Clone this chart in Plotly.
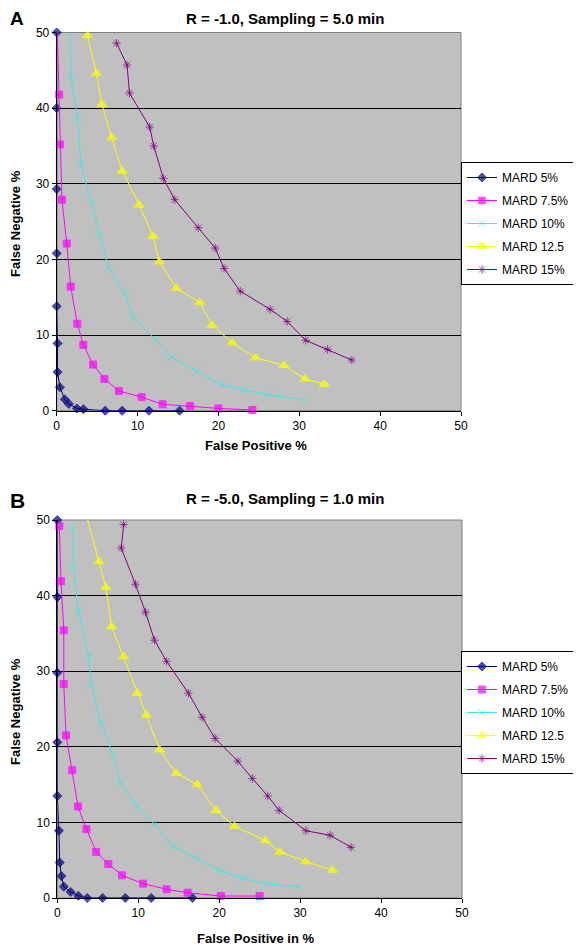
import plotly.graph_objects as go

FONT = "Arial, Liberation Sans, sans-serif"
W, H = 581, 948          # target page size
BODY = 8                 # default page body margin around the figure div
FW, FH = W - BODY, H - BODY  # figure size so that it ends at the window edge

series_names = ["MARD 5%", "MARD 7.5%", "MARD 10%", "MARD 12.5", "MARD 15%"]
colors = ["#000080", "#FF00FF", "#3CE8E8", "#FFFF00", "#800080"]
symbols = ["diamond", "square", "x-thin-open", "triangle-up", "asterisk-open"]
marker_sizes = [7, 7, 7, 9, 7]

# Panel A: R = -1.0, Sampling = 5.0 min
a_fp_mard5 = [0, 0, 0, 0, 0, 0.1, 0.1, 0.4, 1.0, 1.5, 2.5, 3.3, 6.0, 8.1, 11.4, 15.2]
a_fn_mard5 = [50, 40, 29.3, 20.8, 13.8, 8.9, 5.1, 3.1, 1.5, 0.9, 0.3, 0.2, 0, 0, 0, 0]
a_fp_mard75 = [0.02, 0.3, 0.4, 0.65, 1.24, 1.73, 2.55, 3.3, 4.5, 5.9, 7.7, 10.5, 13.1, 16.5, 20.0, 24.2]
a_fn_mard75 = [52, 41.8, 35.2, 27.9, 22.1, 16.4, 11.5, 8.7, 6.1, 4.2, 2.6, 1.8, 0.85, 0.6, 0.3, 0.1]
a_fp_mard10 = [1.6, 1.77, 2.55, 3.0, 4.3, 5.3, 6.4, 8.4, 9.5, 12.2, 14.2, 17.3, 20.3, 23.2, 26.2, 30.7]
a_fn_mard10 = [52, 44.1, 38.8, 32.6, 27.5, 23.4, 18.9, 15.5, 12.3, 9.4, 7.1, 5.2, 3.5, 2.7, 2.1, 1.4]
a_fp_mard125 = [3.8, 4.9, 5.6, 6.8, 8.1, 10.2, 11.9, 12.7, 14.8, 17.7, 19.2, 21.7, 24.6, 28.1, 30.7, 33.1]
a_fn_mard125 = [49.6, 44.6, 40.5, 36.1, 31.7, 27.2, 23.1, 19.7, 16.2, 14.3, 11.3, 9.0, 7.0, 6.0, 4.2, 3.5]
a_fp_mard15 = [7.4, 8.7, 9.0, 11.5, 12.0, 13.2, 14.6, 17.5, 19.6, 20.7, 22.7, 26.4, 28.5, 30.8, 33.5, 36.5]
a_fn_mard15 = [48.6, 45.7, 42.0, 37.5, 35.0, 30.7, 27.9, 24.2, 21.5, 18.8, 15.8, 13.4, 11.8, 9.3, 8.1, 6.7]

# Panel B: R = -5.0, Sampling = 1.0 min
b_fp_mard5 = [0, 0, 0, 0, 0, 0.2, 0.3, 0.5, 0.8, 1.65, 2.6, 3.7, 5.6, 8.4, 11.6, 16.7]
b_fn_mard5 = [50, 39.8, 29.8, 20.6, 13.5, 8.9, 4.7, 2.9, 1.5, 0.8, 0.3, 0, 0, 0, 0, 0]
b_fp_mard75 = [0.25, 0.46, 0.8, 0.8, 1.08, 1.85, 2.56, 3.6, 4.8, 6.3, 8.0, 10.6, 13.5, 16.1, 20.2, 25.0]
b_fn_mard75 = [49.2, 41.9, 35.4, 28.3, 21.5, 16.9, 12.1, 9.1, 6.1, 4.5, 3.0, 1.9, 1.15, 0.7, 0.26, 0.26]
b_fp_mard10 = [1.9, 2.0, 2.6, 3.9, 4.2, 5.4, 6.85, 7.8, 9.8, 12.0, 14.3, 17.2, 20.1, 23.0, 26.0, 29.8]
b_fn_mard10 = [49.0, 43.7, 38.0, 31.9, 28.2, 23.2, 19.0, 15.25, 12.2, 9.8, 6.8, 5.25, 3.6, 2.6, 1.85, 1.5]
b_fp_mard125 = [3.25, 5.15, 6.0, 6.7, 8.2, 9.9, 11.0, 12.65, 14.7, 17.3, 19.6, 21.9, 25.7, 27.5, 30.7, 34.0]
b_fn_mard125 = [52, 44.5, 41.1, 35.9, 31.9, 27.1, 24.2, 19.6, 16.5, 15.0, 11.6, 9.5, 7.6, 6.1, 4.8, 3.7]
b_fp_mard15 = [8.2, 7.9, 9.65, 10.9, 12.0, 13.5, 16.2, 17.9, 19.5, 22.3, 24.1, 26.0, 27.4, 30.7, 33.7, 36.3]
b_fn_mard15 = [49.4, 46.3, 41.5, 37.8, 34.1, 31.3, 27.1, 23.9, 21.1, 18.1, 15.8, 13.5, 11.6, 8.9, 8.3, 6.7]

tick_vals = [0, 10, 20, 30, 40, 50]
AXIS_MAX = 50


def fx(px):
    return (px - BODY) / FW


def fy(py):
    return 1 - (py - BODY) / FH


panel_a = [(a_fp_mard5, a_fn_mard5), (a_fp_mard75, a_fn_mard75), (a_fp_mard10, a_fn_mard10),
           (a_fp_mard125, a_fn_mard125), (a_fp_mard15, a_fn_mard15)]
panel_b = [(b_fp_mard5, b_fn_mard5), (b_fp_mard75, b_fn_mard75), (b_fp_mard10, b_fn_mard10),
           (b_fp_mard125, b_fn_mard125), (b_fp_mard15, b_fn_mard15)]

fig = go.Figure()

for panel, (xa, ya, leg) in [(panel_a, ("x", "y", "legend")), (panel_b, ("x2", "y2", "legend2"))]:
    for i, (xs, ys) in enumerate(panel):
        sizes = [0 if v > AXIS_MAX else marker_sizes[i] for v in ys]
        fig.add_trace(go.Scatter(
            x=xs, y=ys, xaxis=xa, yaxis=ya, legend=leg,
            name=series_names[i], legendgroup=leg + str(i),
            mode="lines+markers", cliponaxis=False,
            line=dict(color=colors[i], width=1),
            marker=dict(symbol=symbols[i], size=sizes, color=colors[i],
                        line=dict(color=colors[i], width=1)),
        ))

axis_common = dict(range=[0, 50], tickvals=tick_vals, ticks="outside", ticklen=4,
                   tickcolor="black", showline=True, linecolor="black", linewidth=1,
                   zeroline=False, automargin=False,
                   tickfont=dict(family=FONT, size=12, color="black"),
                   fixedrange=True)

xa_dom = [fx(56.7), fx(461)]
ya_dom = [fy(410.7), fy(32.5)]
xb_dom = [fx(57.3), fx(462)]
yb_dom = [fy(898), fy(520)]

legend_common = dict(bgcolor="white", bordercolor="black", borderwidth=1,
                     font=dict(family=FONT, size=12, color="black"),
                     xanchor="left", yanchor="top", itemwidth=30, tracegroupgap=4,
                     itemclick=False, itemdoubleclick=False)

fig.update_layout(
    width=FW, height=FH, autosize=False,
    margin=dict(l=0, r=0, t=0, b=0, autoexpand=False),
    paper_bgcolor="white", plot_bgcolor="#C0C0C0",
    font=dict(family=FONT, size=12, color="black"),
    showlegend=True,
    xaxis=dict(domain=xa_dom, anchor="y", showgrid=False, **axis_common),
    yaxis=dict(domain=ya_dom, anchor="x", showgrid=True, gridcolor="black", gridwidth=1, **axis_common),
    xaxis2=dict(domain=xb_dom, anchor="y2", showgrid=False, **axis_common),
    yaxis2=dict(domain=yb_dom, anchor="x2", showgrid=True, gridcolor="black", gridwidth=1, **axis_common),
    legend=dict(x=fx(461), y=fy(162), **legend_common),
    legend2=dict(x=fx(461), y=fy(651), **legend_common),
)

# plot-area border (grey top/right)
for xd, yd in [(xa_dom, ya_dom), (xb_dom, yb_dom)]:
    fig.add_shape(type="rect", xref="paper", yref="paper", x0=xd[0], x1=xd[1], y0=yd[0], y1=yd[1],
                  line=dict(color="#808080", width=1), layer="between")


def add_text(text, px, py, size, bold=True, angle=0, xanchor="center"):
    fig.add_annotation(text=f"<b>{text}</b>" if bold else text, x=fx(px), y=fy(py),
                       xref="paper", yref="paper", showarrow=False, textangle=angle,
                       xanchor=xanchor, yanchor="middle",
                       font=dict(family=FONT, size=size, color="black"))


add_text("A", 8, 19, 19, xanchor="left")
add_text("R = -1.0, Sampling = 5.0 min", 285, 19, 15)
add_text("False Negative %", 15, 224, 13, angle=-90)
add_text("False Positive %", 256, 446, 13)

add_text("B", 8, 500, 21, xanchor="left")
add_text("R = -5.0, Sampling = 1.0 min", 285, 498, 15)
add_text("False Negative %", 15, 712, 13, angle=-90)
add_text("False Positive in %", 255, 938, 13)

fig.write_html("out.html")
